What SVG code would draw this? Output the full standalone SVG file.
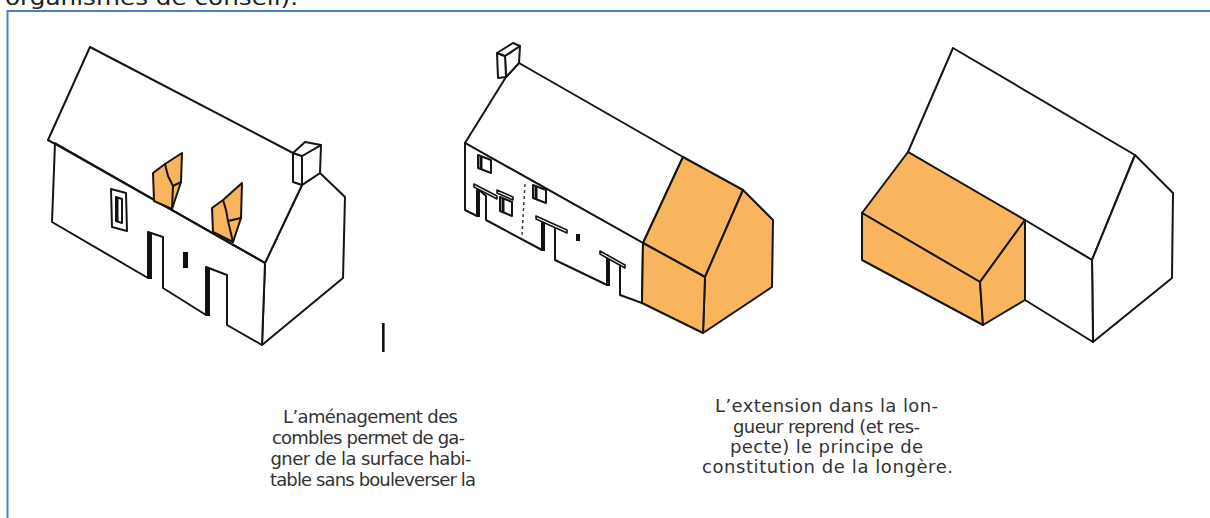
<svg xmlns="http://www.w3.org/2000/svg" width="1210" height="518" viewBox="0 0 1210 518">
  <style>
    .ink { fill: none; stroke: #151515; stroke-width: 2; stroke-linejoin: round; stroke-linecap: round; }
    .wall { fill: #ffffff; stroke: #151515; stroke-width: 2; stroke-linejoin: round; }
    .ext { fill: #f8b55e; stroke: #151515; stroke-width: 2; stroke-linejoin: round; }
    .jamb { fill: none; stroke: #111; stroke-width: 4; stroke-linecap: butt; }
    .slab { fill: #fff; stroke: #151515; stroke-width: 1.6; stroke-linejoin: round; }
    .dark { fill: #111; }
    .caption { font-family: "DejaVu Sans", "Liberation Sans", sans-serif; font-size: 18px; fill: #333; text-anchor: middle; }
    .frame { fill: none; stroke: #4f81bd; stroke-width: 2; }
  </style>

  <rect width="1210" height="518" fill="#ffffff"/>

  <!-- running text above the frame (clipped by the page edge) -->
  <text x="5" y="5" font-family="DejaVu Sans, Liberation Sans, sans-serif" font-size="22" fill="#222" textLength="293" lengthAdjust="spacingAndGlyphs">organismes de conseil).</text>

  <!-- blue frame: top and left borders -->
  <path class="frame" d="M7.5,518 V11 H1210"/>

  <!-- House 1: attic conversion with two dormers -->
  <g id="house-attic">
    <!-- gable end -->
    <polygon class="wall" points="302,185 320,173 345,197 343,278 262,345 265,263"/>
    <!-- roof plane -->
    <polygon class="wall" points="90,47 293,153 302,185 265,263 48,140"/>
    <!-- front wall with door recesses -->
    <polygon class="wall" points="55,143 265,263 262,345 227,325 227,275 206,267 206,315 163,288 163,237 148,232 148,278 52,222"/>
    <polyline class="ink" points="48,140 265,263"/>
    <line class="jamb" x1="150" y1="233" x2="150" y2="279"/>
    <line class="jamb" x1="208" y1="268" x2="208" y2="316"/>
    <!-- chimney -->
    <polygon class="wall" points="302,156 321,145 320,173 302,185"/>
    <polygon class="wall" points="293,153 302,156 302,185 293,182"/>
    <polygon class="wall" points="293,153 305,142 321,145 302,156"/>
    <!-- window -->
    <polygon class="wall" points="111,189 126,193 127,231 112,227"/>
    <polygon class="wall" points="116,197 122,199 122,223 116,221"/>
    <line class="jamb" x1="117" y1="198" x2="117" y2="222" style="stroke-width:3"/>
    <!-- small opening -->
    <rect class="dark" x="183" y="252" width="5" height="16"/>
    <!-- dormers -->
    <polygon class="ext" points="153,173 165,164 182,153 181,182 172,209 154,201"/>
    <polyline class="ink" points="165,164 168,176 173,186 181,182"/>
    <polyline class="ink" points="173,186 172,209"/>
    <polygon class="ext" points="212,208 223,200 242,183 241,218 233,242 213,232"/>
    <polyline class="ink" points="223,200 226,210 228,221 241,218"/>
    <polyline class="ink" points="228,221 233,242"/>
  </g>

  <!-- cursor mark -->
  <rect class="dark" x="382" y="323" width="2.6" height="29"/>

  <!-- House 2: extension in the length of the longère -->
  <g id="house-lengthwise">
    <!-- main roof -->
    <polygon class="wall" points="506,77 519,63 683,157 643,243 465,143"/>
    <!-- front wall -->
    <polygon class="wall" points="465,143 643,243 642,303 620,295 620,265 607,255 607,285 555,260 555,227 542,220 542,250 486,220 486,196 477,188 477,216 465,210"/>
    <line class="jamb" x1="478" y1="189" x2="478" y2="217"/>
    <line class="jamb" x1="543" y1="221" x2="543" y2="251"/>
    <line class="jamb" x1="608" y1="256" x2="608" y2="286"/>
    <!-- lintels -->
    <polygon class="slab" points="474,184 497,196 497,199 474,187"/>
    <polygon class="slab" points="536,216 567,230 567,233 536,219"/>
    <polygon class="slab" points="600,251 625,265 625,268 600,254"/>
    <polygon class="slab" points="497,190 513,197 513,200 497,193"/>
    <!-- windows -->
    <polygon class="wall" points="478,155 491,160 491,173 478,168"/>
    <line class="jamb" x1="481" y1="157" x2="481" y2="169" style="stroke-width:3"/>
    <polygon class="wall" points="533,185 546,190 546,203 533,198"/>
    <line class="jamb" x1="536" y1="187" x2="536" y2="199" style="stroke-width:3"/>
    <polygon class="wall" points="500,197 512,202 512,216 500,211"/>
    <line class="jamb" x1="503" y1="199" x2="503" y2="212" style="stroke-width:3"/>
    <!-- party wall trace -->
    <line x1="525" y1="184" x2="522" y2="235" stroke="#333" stroke-width="1.4" stroke-dasharray="3,3"/>
    <rect class="dark" x="576" y="234" width="4" height="7"/>
    <!-- chimney -->
    <polygon class="wall" points="505,56 520,46 519,63 506,77"/>
    <polygon class="wall" points="497,53 505,56 506,77 498,78"/>
    <polygon class="wall" points="497,53 513,43 520,46 505,56"/>
    <!-- orange extension -->
    <polygon class="ext" points="683,157 743,190 705,277 643,243"/>
    <polygon class="ext" points="743,190 773,220 772,287 703,333 705,277"/>
    <polygon class="ext" points="643,243 705,277 703,333 642,303"/>
  </g>

  <!-- House 3: lean-to extension along the front -->
  <g id="house-side">
    <polygon class="wall" points="953,48 1135,155 1092,260 908,152"/>
    <polygon class="wall" points="1135,155 1173,193 1172,278 1093,342 1092,260"/>
    <polygon class="wall" points="1025,220 1092,260 1093,342 1025,300"/>
    <polygon class="ext" points="908,152 1025,220 980,282 862,213"/>
    <polygon class="ext" points="862,213 980,282 983,325 862,260"/>
    <polygon class="ext" points="980,282 1025,220 1025,300 983,325"/>
  </g>

  <!-- captions -->
  <g id="caption-attic">
    <text class="caption" x="370.5" y="423" textLength="175">L’aménagement des</text>
    <text class="caption" x="368.5" y="444" textLength="193">combles permet de ga-</text>
    <text class="caption" x="371" y="465" textLength="201">gner de la surface habi-</text>
    <text class="caption" x="373" y="486" textLength="206">table sans bouleverser la</text>
  </g>
  <g id="caption-lengthwise">
    <text class="caption" x="826.5" y="412" textLength="223">L’extension dans la lon-</text>
    <text class="caption" x="826.5" y="433" textLength="187">gueur reprend (et res-</text>
    <text class="caption" x="826.5" y="453" textLength="193">pecte) le principe de</text>
    <text class="caption" x="827.5" y="473" textLength="251">constitution de la longère.</text>
  </g>
</svg>
